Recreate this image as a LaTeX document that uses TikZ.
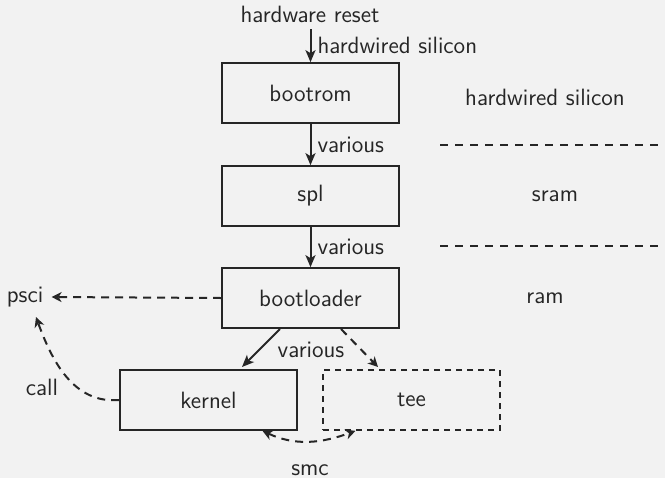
\documentclass[tikz,border=0pt]{standalone}
\usetikzlibrary{arrows.meta}
\definecolor{bg}{HTML}{F2F2F2}
\definecolor{ink}{HTML}{262626}
\begin{document}
\begin{tikzpicture}[x=0.5pt,y=-0.5pt,font=\sffamily\fontsize{11.8}{14}\selectfont,
  stage/.style={draw=ink,line width=0.85pt,minimum width=88.5pt,minimum height=30pt,inner sep=0pt,text=ink},
  lbl/.style={text=ink,inner sep=1pt},
  arr/.style={line width=1pt,draw=ink,-{Stealth[length=6pt,width=5pt,inset=1.5pt]}},
  darr/.style={line width=1pt,draw=ink,dashed,dash pattern=on 4pt off 3pt,-{Stealth[length=5pt,width=5pt,inset=1.5pt]}},
  sep/.style={line width=0.9pt,draw=ink,dash pattern=on 4pt off 3.5pt}]
\fill[bg] (0,0) rectangle (665,478);
\useasboundingbox (0,0) rectangle (665,478);
\node[lbl] (reset) at (310,14) {hardware reset};
\node[stage] (bootrom) at (310.5,93) {bootrom};
\node[stage] (spl) at (310.5,196) {spl};
\node[stage] (bootloader) at (310.5,298) {bootloader};
\node[stage] (kernel) at (208.5,400) {kernel};
\node[stage,dashed,dash pattern=on 3pt off 2.5pt] (tee) at (411.5,400) {tee};
\node[lbl] (psci) at (25,297) {psci};
\node[lbl] (r1) at (545,97) {hardwired silicon};
\node[lbl] (r2) at (555,196) {sram};
\node[lbl] (r3) at (545,298) {ram};
\node[lbl] (various3) at (311,350) {various};
\node[lbl] (call) at (42,387) {call};
\node[lbl] (smc) at (310,470) {smc};
\coordinate (s1a) at (440,145); \coordinate (s1b) at (665,145);
\coordinate (s2a) at (440,246); \coordinate (s2b) at (665,246);
\coordinate (pscin) at (36,317);
\coordinate (rs) at (310.5,29);
\coordinate (bk1) at (280,329);
\coordinate (bk2) at (242,367);
\coordinate (bt1) at (341,329);
\coordinate (bt2) at (378,367);
\draw[sep] (s1a) -- (s1b);
\draw[sep] (s2a) -- (s2b);
\draw[arr] (rs) -- (bootrom.north) node[lbl,midway,right=2pt] {hardwired silicon};
\draw[arr] (bootrom) -- (spl) node[lbl,midway,right=2pt] {various};
\draw[arr] (spl) -- (bootloader) node[lbl,midway,right=2pt] {various};
\draw[arr] (bk1) -- (bk2);
\draw[darr] (bootloader.west) -- ([xshift=3pt]psci.east);
\draw[darr] (bt1) -- (bt2);
\draw[darr] (kernel.west) to[out=185,in=-70] (pscin);
\draw[darr,{Stealth[length=5pt,width=5pt,inset=1.5pt]}-{Stealth[length=5pt,width=5pt,inset=1.5pt]}] ([xshift=27pt]kernel.south) to[out=-25,in=-160] ([xshift=-28pt]tee.south);
\end{tikzpicture}
\end{document}
